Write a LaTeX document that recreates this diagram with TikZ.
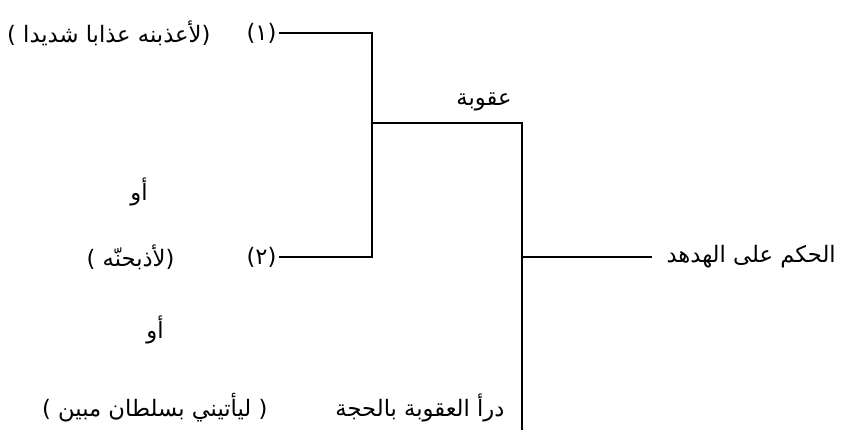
\documentclass[tikz,border=0pt]{standalone}
\usepackage{fontspec}
\newfontfamily\arabicfont[Script=Arabic]{DejaVu Sans}
\TeXXeTstate=1
\usetikzlibrary{positioning}
\newcommand{\artext}[1]{\arabicfont\beginR #1\endR}
\tikzset{
  every picture/.style={line width=1.8pt},
  txt/.style={font=\fontsize{17}{20}\selectfont, inner sep=1pt},
  link/.style={draw=black, line width=1.8pt},
}

\begin{document}
\begin{tikzpicture}[x=0.75pt, y=-0.75pt]
  \useasboundingbox (0,0) rectangle (846,430);
  % left column: the three readings
  \node[txt, anchor=east] (n1) at (279,33) {\artext{(١)}};
  \node[txt, anchor=east] (t1) at (213,33) {\artext{(لأعذبنه عذابا شديدا )}};
  \node[txt] (or1) at (139,192) {\artext{أو}};
  \node[txt, anchor=east] (n2) at (279,257) {\artext{(٢)}};
  \node[txt, anchor=east] (t2) at (177,257) {\artext{(لأذبحنّه )}};
  \node[txt] (or2) at (155,330) {\artext{أو}};
  \node[txt, anchor=east] (t3) at (270,408) {\artext{( ليأتيني بسلطان مبين )}};
  % middle and right
  \node[txt] (uq) at (484,102) {\artext{عقوبة}};
  \node[txt, anchor=east] (dar) at (507,408) {\artext{درأ العقوبة بالحجة}};
  \node[txt, anchor=west, inner xsep=10pt] (hukm) at (652,257) {\artext{الحكم على الهدهد}};
  % brackets
  \coordinate (j1) at (372,123);
  \coordinate (j2) at (522,123);
  \coordinate (j3) at (522,257);
  \coordinate (j4) at (522,430);
  \draw[link] (n1.east) -| (j1) |- (n2.east);
  \draw[link] (j1) -- (j2) -- (j4);
  \draw[link] (j3) -- (hukm.west);
\end{tikzpicture}
\end{document}
